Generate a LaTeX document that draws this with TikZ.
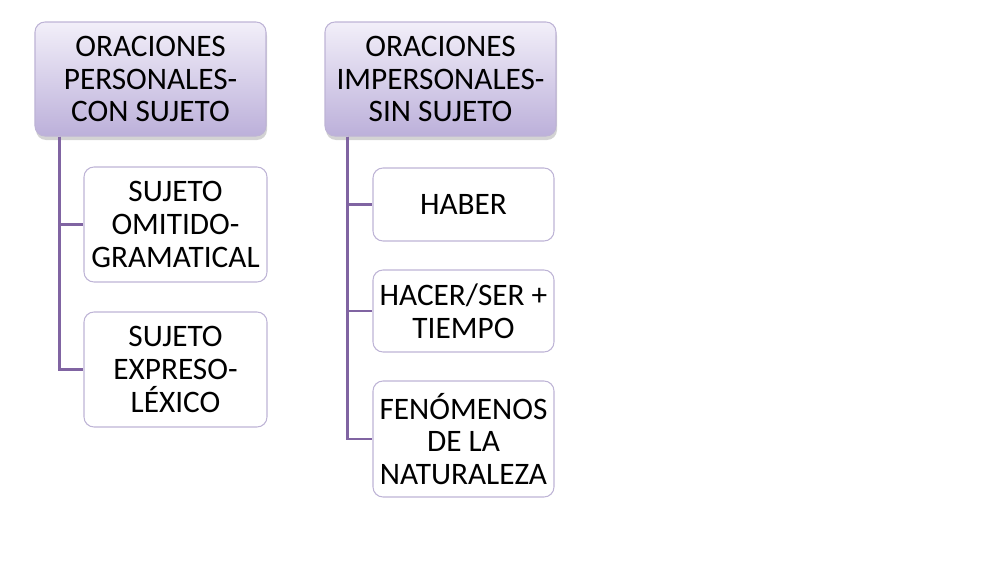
\documentclass[tikz,border=0pt]{standalone}
\usepackage{fontspec}
\setmainfont{Carlito}
\usetikzlibrary{shadows}
\definecolor{lila}{RGB}{128,100,162}
\definecolor{lilatop}{RGB}{242,239,249}
\definecolor{lilabot}{RGB}{188,176,218}
\definecolor{lilaedge}{RGB}{190,180,214}

\begin{document}
\begin{tikzpicture}[
        font=\fontsize{17.8}{18.7}\selectfont,
        topbox/.style={draw=lilaedge, line width=0.6pt, rounded corners=0.2cm,
                       top color=lilatop, bottom color=lilabot, align=center,
                       minimum width=4.62cm, minimum height=2.28cm, inner sep=1pt,
                       drop shadow={shadow xshift=0.02cm, shadow yshift=-0.08cm, opacity=0.35}},
        subbox/.style={draw=lilaedge, line width=0.6pt, rounded corners=0.2cm, fill=white,
                       align=center, inner sep=1pt},
        link/.style={draw=lila, line width=1.4pt}
    ]
    \useasboundingbox (0,0) rectangle (19.96,-11.72);
    \node[topbox] (pers) at (3.01,-1.58)
        {ORACIONES\\PERSONALES-\\CON SUJETO};
    \node[topbox] (imp) at (8.81,-1.58)
        {ORACIONES\\IMPERSONALES-\\SIN SUJETO};
    \node[subbox, minimum width=3.66cm, minimum height=2.30cm] (omit) at (3.51,-4.49)
        {SUJETO\\OMITIDO-\\GRAMATICAL};
    \node[subbox, minimum width=3.66cm, minimum height=2.30cm] (expr) at (3.51,-7.39)
        {SUJETO\\EXPRESO-\\LÉXICO};
    \node[subbox, minimum width=3.62cm, minimum height=1.46cm] (haber) at (9.27,-4.09)
        {HABER};
    \node[subbox, minimum width=3.62cm, minimum height=1.64cm] (hacer) at (9.27,-6.22)
        {HACER/SER +\\TIEMPO};
    \node[subbox, minimum width=3.62cm, minimum height=2.32cm] (fen) at (9.27,-8.78)
        {FENÓMENOS\\DE LA\\NATURALEZA};
    \draw[link] ([xshift=0.5cm]pers.south west) |- (omit.west);
    \draw[link] ([xshift=0.5cm]pers.south west) |- (expr.west);
    \draw[link] ([xshift=0.46cm]imp.south west) |- (haber.west);
    \draw[link] ([xshift=0.46cm]imp.south west) |- (hacer.west);
    \draw[link] ([xshift=0.46cm]imp.south west) |- (fen.west);
\end{tikzpicture}
\end{document}
